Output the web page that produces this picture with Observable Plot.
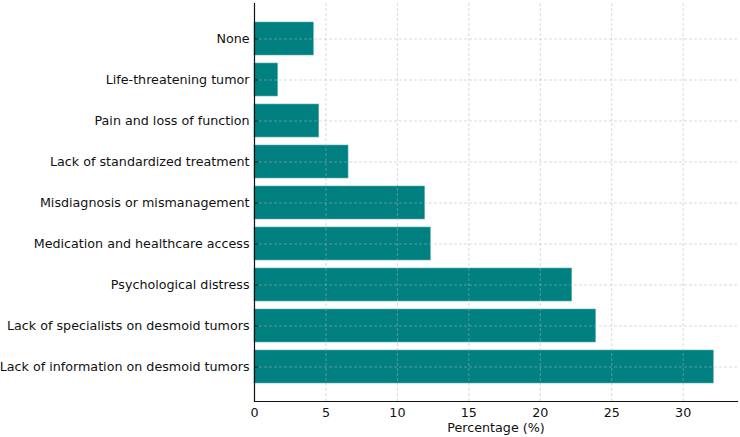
<!DOCTYPE html>
<html>
<head>
<meta charset="utf-8">
<script src="https://cdn.jsdelivr.net/npm/d3@7"></script>
<script src="https://cdn.jsdelivr.net/npm/@observablehq/plot@0.6"></script>
<style>
  body { margin: 0; background: #fff; }
  #chart svg { display: block; }
</style>
</head>
<body>
<div id="chart"></div>
<script>
const categories = [
  "None",
  "Life-threatening tumor",
  "Pain and loss of function",
  "Lack of standardized treatment",
  "Misdiagnosis or mismanagement",
  "Medication and healthcare access",
  "Psychological distress",
  "Lack of specialists on desmoid tumors",
  "Lack of information on desmoid tumors"
];
const values = [4.15, 1.65, 4.53, 6.58, 11.94, 12.34, 22.23, 23.9, 32.14];
const xTicks = [0, 5, 10, 15, 20, 25, 30];

const data = categories.map((c, i) => ({ category: c, value: values[i] }));

const gridStyle = { stroke: "#b0b0b0", strokeOpacity: 0.6, strokeWidth: 0.8, strokeDasharray: "3,2" };
const fs = 12.7;

const chart = Plot.plot({
  width: 740,
  height: 437,
  marginLeft: 254,
  marginRight: 3,
  marginTop: 3,
  marginBottom: 36,
  style: { fontFamily: "DejaVu Sans", fontSize: fs + "px", color: "#111" },
  x: { domain: [0, 33.8], ticks: xTicks, label: null },
  y: { domain: categories, paddingInner: 0.2, paddingOuter: 0.44, label: null },
  marks: [
    Plot.barX(data, { x: "value", y: "category", fill: "teal", stroke: "#5fb0b0", strokeWidth: 0.6 }),
    Plot.gridX(xTicks, gridStyle),
    Plot.gridY(categories, gridStyle),
    Plot.axisY({ tickSize: -4, tickPadding: 9, fontSize: fs, label: null }),
    Plot.axisX(xTicks, { tickSize: 0, tickPadding: 6, fontSize: fs, label: null }),
    Plot.frame({ anchor: "left", stroke: "#111", strokeWidth: 1.2 }),
    Plot.frame({ anchor: "bottom", stroke: "#111", strokeWidth: 1.2 }),
    Plot.text(["Percentage (%)"], { frameAnchor: "bottom", dy: 30, fontSize: fs, fill: "#111" })
  ]
});
document.getElementById("chart").appendChild(chart);
</script>
</body>
</html>
